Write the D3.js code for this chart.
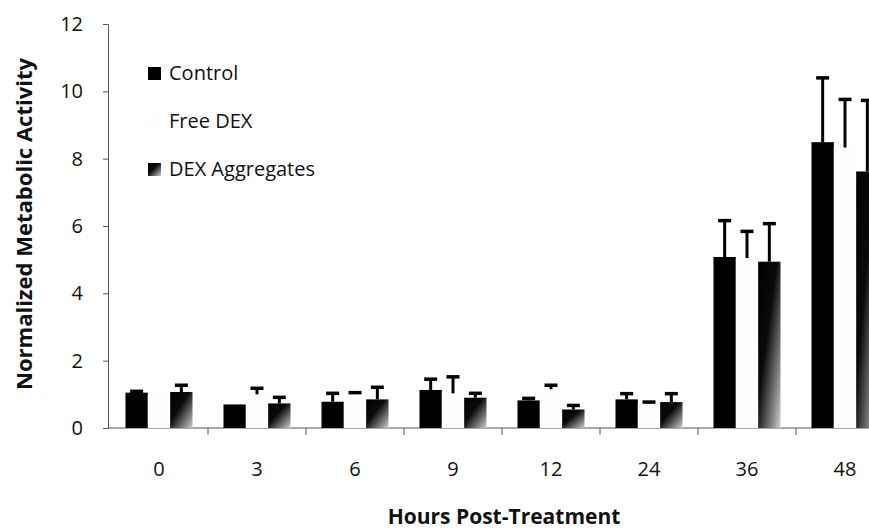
<!DOCTYPE html>
<html>
<head>
<meta charset="utf-8">
<script src="https://cdn.jsdelivr.net/npm/d3@7"></script>
<style>
  html, body { margin: 0; padding: 0; background: #fff; }
  svg { display: block; }
  text { font-family: "Open Sans", Lato, sans-serif; fill: #111; }
</style>
</head>
<body>
<svg id="chart" width="869" height="531"></svg>
<script>
// Hours after treatment (x categories)
const hours = ["0", "3", "6", "9", "12", "24", "36", "48"];
const seriesNames = ["Control", "Free DEX", "DEX Aggregates"];

// Mean normalized metabolic activity per series
const controlMean = [1.05, 0.70, 0.78, 1.13, 0.82, 0.85, 5.08, 8.49];
const freeDexMean = [1.00, 1.00, 1.03, 1.03, 1.15, 0.72, 5.05, 8.33];
const aggMean     = [1.07, 0.73, 0.85, 0.90, 0.55, 0.77, 4.94, 7.62];

// Upper error (standard deviation)
const controlErr = [0.04, 0.00, 0.25, 0.32, 0.06, 0.17, 1.08, 1.91];
const freeDexErr = [0.00, 0.18, 0.02, 0.49, 0.12, 0.05, 0.79, 1.43];
const aggErr     = [0.20, 0.18, 0.36, 0.13, 0.12, 0.25, 1.13, 2.11];

const yTicks = [0, 2, 4, 6, 8, 10, 12];

const means = [controlMean, freeDexMean, aggMean];
const errs = [controlErr, freeDexErr, aggErr];

const svg = d3.select("#chart");
const defs = svg.append("defs");

// Dark-to-light diagonal shading for the aggregate bars
const grad = defs.append("linearGradient")
  .attr("id", "aggFill")
  .attr("x1", 0).attr("y1", 0).attr("x2", 1).attr("y2", 1);
grad.append("stop").attr("offset", "0").attr("stop-color", "#000");
grad.append("stop").attr("offset", "0.42").attr("stop-color", "#0a0a0a");
grad.append("stop").attr("offset", "0.75").attr("stop-color", "#777");
grad.append("stop").attr("offset", "1").attr("stop-color", "#cfcfcf");

const fills = ["#000", "#fdfdfd", "url(#aggFill)"];

const x0 = 110, plotBottom = 428, plotTop = 24;

const x = d3.scaleBand()
  .domain(hours)
  .range([x0, x0 + 98 * hours.length])
  .paddingInner(0.316)
  .paddingOuter(0.158);

const xs = d3.scaleBand()
  .domain(seriesNames)
  .range([0, x.bandwidth()]);

const y = d3.scaleLinear().domain([0, 12]).range([plotBottom, plotTop]);

// Y axis
const yAxis = svg.append("g")
  .attr("transform", `translate(108,0)`)
  .call(d3.axisLeft(y).tickValues(yTicks).tickSize(5).tickPadding(20).tickFormat(d3.format("d")));
yAxis.select(".domain").attr("stroke", "#555");
yAxis.selectAll(".tick line").attr("stroke", "#555");
yAxis.selectAll("text").style("font-size", "20px").attr("fill", "#111")
  .style("font-family", "'Open Sans', sans-serif");

// X axis with ticks at category boundaries
const xAxisG = svg.append("g").attr("transform", `translate(0,${plotBottom})`);
xAxisG.append("line")
  .attr("x1", 108).attr("x2", x0 + 98 * hours.length)
  .attr("stroke", "#555").attr("stroke-width", 1.2);
xAxisG.selectAll(".sep")
  .data(hours.slice(1))
  .join("line")
  .attr("class", "sep")
  .attr("x1", d => x(d) - x.step() * x.paddingInner() / 2)
  .attr("x2", d => x(d) - x.step() * x.paddingInner() / 2)
  .attr("y1", 0).attr("y2", 7)
  .attr("stroke", "#555");
xAxisG.selectAll(".xl")
  .data(hours)
  .join("text")
  .attr("class", "xl")
  .attr("x", d => x(d) + x.bandwidth() / 2)
  .attr("y", 41)
  .attr("dy", "0.35em")
  .attr("text-anchor", "middle")
  .style("font-size", "20px")
  .text(d => d);

// Bars and upper error bars, one layer per series
seriesNames.forEach((name, si) => {
  const rows = hours.map((h, i) => ({ h, v: means[si][i], e: errs[si][i] }));
  const layer = svg.append("g");
  layer.selectAll("rect")
    .data(rows)
    .join("rect")
    .attr("x", d => x(d.h) + xs(name))
    .attr("y", d => y(d.v))
    .attr("width", xs.bandwidth())
    .attr("height", d => y(0) - y(d.v))
    .attr("fill", fills[si]);

  const eb = layer.selectAll("g.err")
    .data(rows.filter(d => d.e > 0))
    .join("g").attr("class", "err");
  const cx = d => x(d.h) + xs(name) + xs.bandwidth() / 2;
  eb.append("line")
    .attr("x1", cx).attr("x2", cx)
    .attr("y1", d => y(d.v))
    .attr("y2", d => y(d.v + d.e))
    .attr("stroke", "#000").attr("stroke-width", 3);
  eb.append("line")
    .attr("x1", d => cx(d) - 6.5)
    .attr("x2", d => cx(d) + 6.5)
    .attr("y1", d => y(d.v + d.e))
    .attr("y2", d => y(d.v + d.e))
    .attr("stroke", "#000").attr("stroke-width", 3.5);
});

// Legend
const legend = svg.append("g").attr("transform", "translate(148,0)");
const legendY = [73, 121, 169];
seriesNames.forEach((name, i) => {
  legend.append("rect")
    .attr("x", 0).attr("y", legendY[i] - 6)
    .attr("width", 13).attr("height", 13)
    .attr("fill", fills[i]);
  legend.append("text")
    .attr("x", 21).attr("y", legendY[i])
    .attr("dy", "0.35em")
    .style("font-size", "20px")
    .text(name);
});

// Axis titles
svg.append("text")
  .attr("x", 504).attr("y", 524)
  .attr("text-anchor", "middle")
  .style("font-size", "21px").style("font-weight", "bold")
  .text("Hours Post-Treatment");

svg.append("text")
  .attr("transform", `translate(32,224) rotate(-90)`)
  .attr("text-anchor", "middle")
  .attr("textLength", 332)
  .attr("lengthAdjust", "spacingAndGlyphs")
  .style("font-size", "22px").style("font-weight", "bold")
  .text("Normalized Metabolic Activity");
</script>
</body>
</html>
